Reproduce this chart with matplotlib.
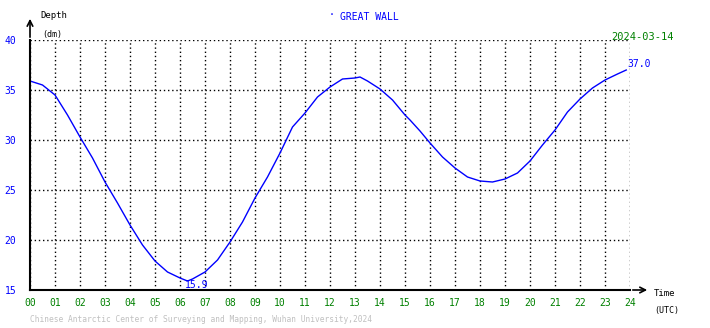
import numpy as np
import matplotlib.pyplot as plt

# tide gauge readings (hour UTC, depth in dm)
hours = [0, 0.5, 1, 1.5, 2, 2.5, 3, 3.5, 4, 4.5, 5, 5.5, 6, 6.3, 6.5, 7,
         7.5, 8, 8.5, 9, 9.5, 10, 10.5, 11, 11.5, 12, 12.5, 13, 13.2, 13.5,
         14, 14.5, 15, 15.2, 15.6, 16, 16.5, 17, 17.5, 18, 18.5, 19, 19.5,
         20, 20.5, 21, 21.5, 22, 22.5, 23, 23.5, 23.85]
depth = [35.9, 35.5, 34.5, 32.5, 30.3, 28.2, 25.8, 23.7, 21.5, 19.5, 17.9,
         16.8, 16.2, 15.9, 16.1, 16.8, 18.0, 19.8, 21.8, 24.2, 26.3, 28.7,
         31.3, 32.7, 34.3, 35.3, 36.1, 36.2, 36.3, 35.9, 35.1, 34.0, 32.5,
         32.0, 30.9, 29.7, 28.3, 27.2, 26.3, 25.9, 25.8, 26.1, 26.7, 27.9,
         29.5, 31.0, 32.8, 34.1, 35.2, 36.0, 36.6, 37.0]
y_ticks = [15, 20, 25, 30, 35, 40]
x_labels = ["%02d" % h for h in range(25)]

W, H = 710, 328
mono = "DejaVu Sans Mono"
blue = "#0000ff"
green = "#008000"

fig = plt.figure(figsize=(W / 100, H / 100), dpi=100)
ax = fig.add_axes([30 / W, 1 - 290 / H, 600 / W, 250 / H])
ax.set_xlim(0, 24)
ax.set_ylim(15, 40)

ax.plot(hours, depth, color=blue, lw=1)

# dotted grid
ax.set_xticks(range(25))
ax.set_yticks(y_ticks)
ax.grid(True, color="black", linestyle=(0, (1, 2)), lw=1)
ax.tick_params(length=0, pad=6)
ax.set_xticklabels(x_labels, fontsize=7, color=green, family=mono)
ax.set_yticklabels([str(v) for v in y_ticks], fontsize=7, color=blue, family=mono)
ax.tick_params(axis="y", pad=10)

for s in ["top", "right"]:
    ax.spines[s].set_visible(False)
for s in ["left", "bottom"]:
    ax.spines[s].set_linewidth(1.5)

# axis arrows
ax.annotate("", xy=(30 / W, 1 - 16 / H), xytext=(30 / W, 1 - 40 / H),
            xycoords="figure fraction",
            arrowprops=dict(arrowstyle="->", lw=1.2, color="black"))
ax.annotate("", xy=(650 / W, 1 - 290 / H), xytext=(630 / W, 1 - 290 / H),
            xycoords="figure fraction",
            arrowprops=dict(arrowstyle="->", lw=1.2, color="black"))

# labels
def ftext(x, y, s, **kw):
    fig.text(x / W, 1 - y / H, s, family=mono, **kw)

ftext(40, 16, "Depth", fontsize=6.5, va="center")
ftext(42, 34, "(dm)", fontsize=6, va="center")
ftext(654, 294, "Time", fontsize=6.5, va="center")
ftext(654, 310, "(UTC)", fontsize=6, va="center")
ftext(329, 15, "·", fontsize=7, color=blue, va="center")
ftext(340, 17, "GREAT WALL", fontsize=7, color=blue, va="center")
ftext(611, 37, "2024-03-14", fontsize=7.5, color=green, va="center")
ftext(30, 320, "Chinese Antarctic Center of Surveying and Mapping, Wuhan University,2024",
      fontsize=5.7, color="#c0c0c0", va="center")

ax.text(23.9, 37.1, "37.0", fontsize=7, color=blue, family=mono,
        ha="left", va="bottom")
ax.text(6.2, 15.95, "15.9", fontsize=7, color=blue, family=mono,
        ha="left", va="top")

fig.savefig("out.png", dpi=100)
